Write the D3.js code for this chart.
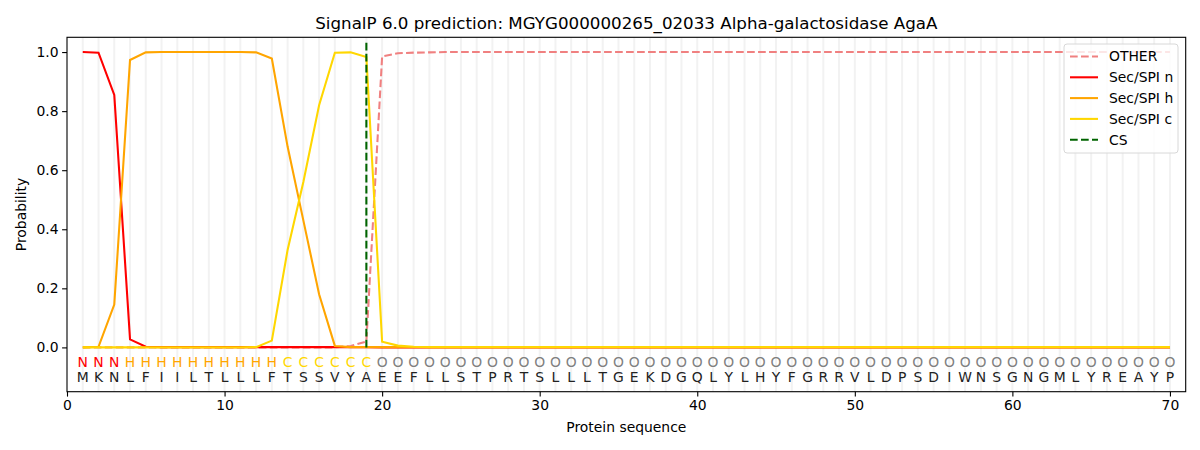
<!DOCTYPE html>
<html>
<head>
<meta charset="utf-8">
<script src="https://cdn.jsdelivr.net/npm/d3@7"></script>
<style>
  body { margin: 0; background: #fff; }
  svg { font-family: "DejaVu Sans", sans-serif; }
</style>
</head>
<body>
<svg width="1200" height="450"></svg>
<script>
var sequence = "MKNLFIILTLLLFTSSVYAEEFLLSTPRTSLLLTGEKDGQLYLHYFGRRVLDPSDIWNSGNGMLYREAYP".split("");
var states = "NNNHHHHHHHHHHCCCCCCOOOOOOOOOOOOOOOOOOOOOOOOOOOOOOOOOOOOOOOOOOOOOOOOOOO".split("");

// probabilities per residue (positions 1..23, rest constant)
var otherHead = [0, 0, 0, 0, 0, 0, 0, 0, 0, 0, 0, 0, 0, 0, 0, 0, 0, 0.005, 0.02, 0.985, 0.996, 0.998, 0.999];
var secNHead  = [1.0, 0.998, 0.855, 0.027, 0.002, 0.001, 0.001, 0.001, 0.001, 0.001, 0.001, 0.001, 0.001, 0.001, 0.001, 0.001, 0.001, 0.001, 0.001, 0, 0, 0, 0];
var secHHead  = [0, 0.002, 0.145, 0.973, 0.999, 1.0, 1.0, 1.0, 1.0, 1.0, 1.0, 0.999, 0.978, 0.68, 0.43, 0.18, 0.005, 0.001, 0.001, 0.001, 0.001, 0.001, 0.001];
var secCHead  = [0, 0, 0, 0, 0, 0, 0, 0, 0, 0, 0, 0.001, 0.023, 0.33, 0.56, 0.82, 0.998, 0.999, 0.983, 0.019, 0.006, 0.002, 0.001];
var otherTail = 1.0, secNTail = 0, secHTail = 0.001, secCTail = 0.001;
var csPos = 19;

var xTicks = [0, 10, 20, 30, 40, 50, 60, 70];
var yTicks = [0.0, 0.2, 0.4, 0.6, 0.8, 1.0];

function fill(head, tail) {
  return sequence.map(function (d, i) { return i < head.length ? head[i] : tail; });
}

var dashed = "7.7,3.3";
var series = [
  { name: "OTHER",     color: "#f08080", dash: dashed, values: fill(otherHead, otherTail) },
  { name: "Sec/SPI n", color: "#ff0000", dash: null,   values: fill(secNHead, secNTail) },
  { name: "Sec/SPI h", color: "#ffa500", dash: null,   values: fill(secHHead, secHTail) },
  { name: "Sec/SPI c", color: "#ffd700", dash: null,   values: fill(secCHead, secCTail) }
];
var stateColor = { N: "#ff0000", H: "#ffa500", C: "#ffd700", O: "#808080" };

var plotL = 67, plotR = 1185.7, plotT = 37.3, plotB = 391.7;
var lw = 2.08;

var svg = d3.select("svg");

var xScale = d3.scaleLinear().domain([0, 71]).range([plotL, plotR]);
var yScale = d3.scaleLinear().domain([-0.15, 1.05]).range([plotB, plotT]);

// light vertical lines per residue
svg.append("g")
  .selectAll("line")
  .data(sequence)
  .enter()
  .append("line")
    .attr("x1", (d, i) => xScale(i + 1))
    .attr("x2", (d, i) => xScale(i + 1))
    .attr("y1", plotT)
    .attr("y2", plotB)
    .attr("stroke", "#f2f2f2")
    .attr("stroke-width", 2);

var line = d3.line()
  .x((d, i) => xScale(i + 1))
  .y(d => yScale(d));

svg.append("g")
  .selectAll("path")
  .data(series)
  .enter()
  .append("path")
    .attr("d", d => line(d.values))
    .attr("fill", "none")
    .attr("stroke", d => d.color)
    .attr("stroke-width", lw)
    .attr("stroke-dasharray", d => d.dash);

// cleavage site
svg.append("line")
  .attr("x1", xScale(csPos))
  .attr("x2", xScale(csPos))
  .attr("y1", yScale(0))
  .attr("y2", yScale(1.04))
  .attr("stroke", "#006400")
  .attr("stroke-width", lw)
  .attr("stroke-dasharray", dashed);

// state letters and residues
svg.append("g")
  .selectAll("text")
  .data(states)
  .enter()
  .append("text")
    .attr("x", (d, i) => xScale(i + 1))
    .attr("y", yScale(-0.066))
    .attr("text-anchor", "middle")
    .style("font-size", "13.9px")
    .attr("fill", d => stateColor[d])
    .text(d => d);

svg.append("g")
  .selectAll("text")
  .data(sequence)
  .enter()
  .append("text")
    .attr("x", (d, i) => xScale(i + 1))
    .attr("y", yScale(-0.117))
    .attr("text-anchor", "middle")
    .style("font-size", "13.9px")
    .attr("fill", "#222")
    .text(d => d);

var xAxis = d3.axisBottom(xScale).tickValues(xTicks).tickSize(4.9).tickPadding(3.5).tickFormat(d3.format("d"));
var yAxis = d3.axisLeft(yScale).tickValues(yTicks).tickSize(4.9).tickPadding(3.5).tickFormat(d3.format(".1f"));

svg.append("g")
  .attr("transform", "translate(0," + plotB + ")")
  .call(xAxis)
  .call(g => g.select(".domain").remove());

svg.append("g")
  .attr("transform", "translate(" + plotL + ",0)")
  .call(yAxis)
  .call(g => g.select(".domain").remove());

svg.selectAll(".tick text").style("font-size", "13.9px").style("font-family", "DejaVu Sans").attr("fill", "#000");
svg.selectAll(".tick line").attr("stroke", "#000").attr("stroke-width", 1.1);

svg.append("rect")
  .attr("x", plotL)
  .attr("y", plotT)
  .attr("width", plotR - plotL)
  .attr("height", plotB - plotT)
  .attr("fill", "none")
  .attr("stroke", "#000")
  .attr("stroke-width", 1.1);

svg.append("text")
  .attr("x", (plotL + plotR) / 2)
  .attr("y", 29)
  .attr("text-anchor", "middle")
  .style("font-size", "16.7px")
  .text("SignalP 6.0 prediction: MGYG000000265_02033 Alpha-galactosidase AgaA");

svg.append("text")
  .attr("x", (plotL + plotR) / 2)
  .attr("y", 432)
  .attr("text-anchor", "middle")
  .style("font-size", "13.9px")
  .text("Protein sequence");

svg.append("text")
  .attr("transform", "rotate(-90)")
  .attr("x", -(plotT + plotB) / 2)
  .attr("y", 26)
  .attr("text-anchor", "middle")
  .style("font-size", "13.9px")
  .text("Probability");

// legend
var legendItems = series.map(d => ({ name: d.name, color: d.color, dash: d.dash }))
  .concat([{ name: "CS", color: "#006400", dash: dashed }]);

var legend = svg.append("g").attr("transform", "translate(1064,44)");
legend.append("rect")
  .attr("width", 114)
  .attr("height", 109)
  .attr("rx", 3)
  .attr("fill", "#fff")
  .attr("fill-opacity", 0.8)
  .attr("stroke", "#d8d8d8");

var rows = legend.selectAll("g.row")
  .data(legendItems)
  .enter()
  .append("g")
    .attr("class", "row")
    .attr("transform", (d, i) => "translate(0," + (12.5 + i * 20.8) + ")");

rows.append("line")
  .attr("x1", 6).attr("x2", 34)
  .attr("stroke", d => d.color)
  .attr("stroke-width", lw)
  .attr("stroke-dasharray", d => d.dash);

rows.append("text")
  .attr("x", 45)
  .attr("dy", "0.35em")
  .style("font-size", "13.9px")
  .text(d => d.name);
</script>
</body>
</html>
